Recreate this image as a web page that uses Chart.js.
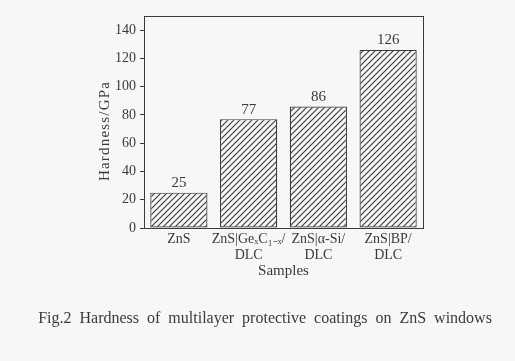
<!DOCTYPE html>
<html>
<head>
<meta charset="utf-8">
<script src="https://cdn.jsdelivr.net/npm/chart.js@4.4.0/dist/chart.umd.min.js"></script>
<style>
  html, body { margin: 0; padding: 0; background: #f7f7f5; }
  #wrap { width: 515px; height: 361px; }
</style>
</head>
<body>
<div id="wrap"><canvas id="myChart" width="515" height="361"></canvas></div>
<script>
const sampleLabels = [
  ['ZnS'],
  ['ZnS|GeₓC₁₋ₓ/', 'DLC'],
  ['ZnS|α-Si/', 'DLC'],
  ['ZnS|BP/', 'DLC']
];
const hardness = [25, 77, 86, 126];
const yTicks = [0, 20, 40, 60, 80, 100, 120, 140];
const yTitle = 'Hardness/GPa';
const caption = 'Fig.2 Hardness of multilayer protective coatings on ZnS windows';

const ink = '#3a3a3a';
const serif = '"Liberation Serif", "Times New Roman", serif';

// hatch pattern for the bars
function hatch() {
  const c = document.createElement('canvas');
  c.width = 6; c.height = 6;
  const g = c.getContext('2d');
  g.fillStyle = '#f7f7f5';
  g.fillRect(0, 0, 6, 6);
  g.strokeStyle = '#404040';
  g.lineWidth = 1.2;
  g.beginPath();
  g.moveTo(-1, 7); g.lineTo(7, -1);
  g.moveTo(-4, 4); g.lineTo(4, -4);
  g.moveTo(2, 10); g.lineTo(10, 2);
  g.stroke();
  return g.createPattern(c, 'repeat');
}

const extras = {
  id: 'extras',
  afterDatasetsDraw(chart) {
    const { ctx, chartArea: a } = chart;
    ctx.save();
    ctx.strokeStyle = ink;
    ctx.lineWidth = 1;
    ctx.strokeRect(a.left + 0.5, a.top + 0.5, a.right - a.left, a.bottom - a.top);

    ctx.fillStyle = ink;
    ctx.font = '15px ' + serif;
    ctx.textAlign = 'center';
    ctx.textBaseline = 'bottom';
    chart.getDatasetMeta(0).data.forEach((bar, i) => {
      ctx.fillText(hardness[i], bar.x, bar.y - 2);
    });

    // y axis title, a bit spaced out like the print
    ctx.save();
    ctx.translate(105, 131);
    ctx.rotate(-Math.PI / 2);
    ctx.font = '15px ' + serif;
    ctx.textBaseline = 'middle';
    ctx.letterSpacing = '1.2px';
    ctx.fillText(yTitle, 0, 0);
    ctx.restore();

    ctx.font = '16px ' + serif;
    ctx.textBaseline = 'middle';
    ctx.wordSpacing = '4px';
    ctx.fillText(caption, 265, 319);
    ctx.restore();
  }
};

const ctx = document.getElementById('myChart');

new Chart(ctx, {
  type: 'bar',
  data: {
    labels: sampleLabels,
    datasets: [{
      data: hardness,
      backgroundColor: hatch(),
      borderColor: ink,
      borderWidth: 1.2,
      borderSkipped: false,
      barPercentage: 0.82,
      categoryPercentage: 1
    }]
  },
  options: {
    responsive: false,
    animation: false,
    layout: { padding: { top: 16, right: 92, bottom: 81, left: 104 } },
    plugins: {
      legend: { display: false },
      tooltip: { enabled: false }
    },
    scales: {
      x: {
        grid: { display: false, drawTicks: false },
        border: { display: false },
        ticks: {
          color: ink,
          padding: 3,
          maxRotation: 0,
          autoSkip: false,
          font: { family: serif, size: 14, lineHeight: 1.15 }
        },
        title: {
          display: true,
          text: 'Samples',
          color: ink,
          padding: { top: 0, bottom: 0 },
          font: { family: serif, size: 15 }
        },
        afterFit: (s) => { s.height = 52; }
      },
      y: {
        min: 0,
        max: 150,
        afterBuildTicks: (s) => { s.ticks = yTicks.map(v => ({ value: v })); },
        grid: { drawOnChartArea: false, tickLength: 4, color: ink },
        border: { display: false },
        ticks: {
          color: ink,
          padding: 4,
          font: { family: serif, size: 14 }
        },
        afterFit: (s) => { s.width = 40; }
      }
    }
  },
  plugins: [extras]
});
</script>
</body>
</html>
